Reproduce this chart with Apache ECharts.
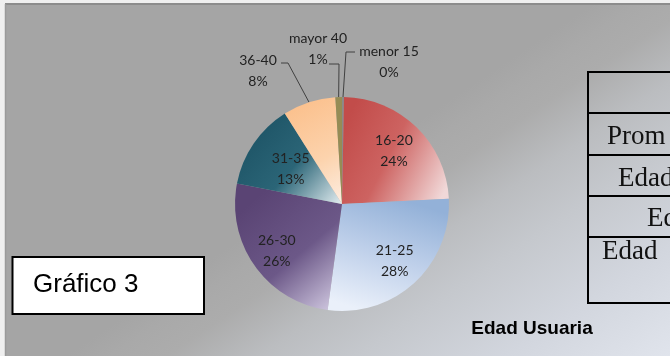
<!DOCTYPE html>
<html>
<head>
<meta charset="utf-8">
<script src="https://cdn.jsdelivr.net/npm/echarts@6/dist/echarts.min.js"></script>
<style>
html,body{margin:0;padding:0;background:#efefef;}
#chart{width:670px;height:356px;}
</style>
</head>
<body>
<div id="chart"></div>
<script>
// ---- data ----
var categories = ['menor 15', '16-20', '21-25', '26-30', '31-35', '36-40', 'mayor 40'];
var values = [0.3, 24, 28, 26, 13, 8, 1];
var chartLabel = 'Gráfico 3';
var chartTitle = 'Edad Usuaria';
var tableTexts = ['Prom', 'Edad', 'Ed', 'Edad'];

// ---- styles ----
var CX = 342, CY = 204, R = 107;
var lg = function (x0, y0, x1, y1, stops, global) {
  return new echarts.graphic.LinearGradient(x0, y0, x1, y1,
    stops.map(function (s) { return { offset: s[0], color: s[1] }; }), global);
};
var sliceColors = [
  '#8a8a8a',
  lg(0, 0.3, 1, 0.8, [[0, '#c24c4a'], [0.45, '#cd6361'], [1, '#f1d8d8']]),
  lg(0.6, 0, 0.3, 1, [[0, '#93b1d8'], [0.5, '#bfd0ea'], [1, '#eaf0fa']]),
  lg(0.15, 0.15, 1, 1, [[0, '#5a4474'], [0.5, '#6c5888'], [1, '#d9d2e8']]),
  lg(0.2, 0.2, 1, 1, [[0, '#1f5668'], [0.45, '#2b6577'], [1, '#e4eef1']]),
  lg(0, 0, 1, 1, [[0, '#fbbd87'], [0.6, '#fcd3ad'], [1, '#fdeee3']]),
  '#958c55'
];
var labelRadial = [1, 1.32, 1.38, 1.42, 1.1, 1, 1];
var outsideLabels = {
  0: { x: 389, y: 62, pts: [[346, 52], [355, 52]] },
  5: { x: 258, y: 71, pts: [[288, 63], [281, 63]] },
  6: { x: 318, y: 49, pts: [[339, 64], [329, 64]] }
};

var data = categories.map(function (c, i) {
  var item = { name: c, value: values[i], itemStyle: { color: sliceColors[i] } };
  if (outsideLabels[i]) {
    item.label = { position: 'outside' };
    item.labelLine = { show: true, length: 10, length2: 10, lineStyle: { color: '#404040', width: 1 } };
  }
  return item;
});

var tableLineStyle = { stroke: '#000', lineWidth: 2 };
var rowYs = [72, 113, 155, 196, 237, 303];
var bg = lg(484, 77, 670, 356, [[0, '#a5a5a5'], [0.075, '#a9a9a9'], [0.166, '#acacac'],
  [0.32, '#bbbdc0'], [0.48, '#c5c8cd'], [0.73, '#d2d6de'], [1, '#e0e4ec']], true);
var graphics = [
  { type: 'rect', z: -100, shape: { x: 5, y: 4, width: 665, height: 352 }, style: { fill: bg } },
  { type: 'line', z: 100, shape: { x1: 5, y1: 4, x2: 670, y2: 4 }, style: { stroke: '#8c8c8c', lineWidth: 2 } },
  { type: 'line', z: 100, shape: { x1: 5.5, y1: 4, x2: 5.5, y2: 356 }, style: { stroke: '#9a9a9a', lineWidth: 1.5 } },
  { type: 'rect', z: 100, shape: { x: 12.5, y: 257, width: 191.5, height: 57 }, style: { fill: '#fff', stroke: '#000', lineWidth: 2 } },
  { type: 'text', z: 101, x: 33, y: 285, style: { text: chartLabel, font: '26px "Liberation Sans", Arial', fill: '#000', verticalAlign: 'middle' } },
  { type: 'text', z: 101, x: 532, y: 329, style: { text: chartTitle, font: 'bold 19px "Liberation Sans", Arial', fill: '#000', align: 'center', verticalAlign: 'middle' } },
  { type: 'line', z: 100, shape: { x1: 588, y1: 71, x2: 588, y2: 304 }, style: tableLineStyle }
];
rowYs.forEach(function (y) {
  graphics.push({ type: 'line', z: 100, shape: { x1: 587, y1: y, x2: 670, y2: y }, style: tableLineStyle });
});
var tableTextPos = [[607, 137], [618, 178.5], [647, 219], [602, 252]];
tableTexts.forEach(function (t, i) {
  graphics.push({ type: 'text', z: 101, x: tableTextPos[i][0], y: tableTextPos[i][1],
    style: { text: t, font: '27px "Liberation Serif", "Times New Roman", serif', fill: '#111', verticalAlign: 'middle' } });
});

var chart = echarts.init(document.getElementById('chart'), null, { renderer: 'canvas' });
chart.setOption({
  animation: false,
  graphic: graphics,
  series: [{
    type: 'pie',
    center: [CX, CY],
    radius: [0, R],
    startAngle: 90,
    clockwise: true,
    percentPrecision: 0,
    minAngle: 0,
    avoidLabelOverlap: false,
    emphasis: { disabled: true },
    itemStyle: { borderWidth: 0 },
    label: {
      show: true,
      position: 'inside',
      formatter: '{b}\n{d}%',
      fontFamily: 'Lato',
      fontSize: 14,
      lineHeight: 21,
      color: '#222',
      align: 'center'
    },
    labelLine: { show: false },
    labelLayout: function (p) {
      var i = p.dataIndex;
      var o = outsideLabels[i];
      if (o) {
        var start = p.labelLinePoints ? p.labelLinePoints[0] : [CX, CY - R];
        return { x: o.x, y: o.y, align: 'center', verticalAlign: 'middle',
          labelLinePoints: [start, o.pts[0], o.pts[1]] };
      }
      var r = p.labelRect;
      var lx = r.x + r.width / 2, ly = r.y + r.height / 2;
      var k = labelRadial[i];
      return { dx: (lx - CX) * (k - 1), dy: (ly - CY) * (k - 1) };
    },
    data: data
  }]
});
</script>
</body>
</html>
